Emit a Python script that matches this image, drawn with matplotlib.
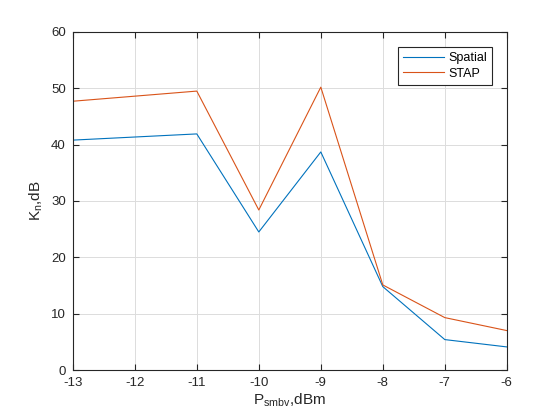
import matplotlib
matplotlib.use("Agg")
import matplotlib.pyplot as plt

# Output power, dBm
p_smbv = [-13, -11, -10, -9, -8, -7, -6]
# suppression coefficient, dB
kn_spatial = [40.8, 41.9, 24.5, 38.7, 14.8, 5.4, 4.1]
kn_stap = [47.7, 49.5, 28.4, 50.2, 15.1, 9.3, 7.0]

plt.rcParams['font.family'] = ['Liberation Sans', 'DejaVu Sans']
plt.rcParams['axes.unicode_minus'] = False

fig = plt.figure(figsize=(5.6, 4.2), dpi=100)
ax = fig.add_axes([0.13, 0.119, 0.775, 0.805])

ax.plot(p_smbv, kn_spatial, color='#0072BD', lw=0.8, label='Spatial')
ax.plot(p_smbv, kn_stap, color='#D95319', lw=0.8, label='STAP')

ax.set_xlim(-13, -6)
ax.set_ylim(0, 60)
ax.set_xticks(range(-13, -5))
ax.set_yticks(range(0, 61, 10))
ax.grid(True, color='#dcdcdc', lw=0.7)
ax.set_axisbelow(True)
ax.tick_params(direction='in', length=4, width=0.8, labelsize=9.5,
               colors='#262626', top=True, right=True, pad=5)
for s in ax.spines.values():
    s.set_color('#262626')
    s.set_linewidth(0.8)

ax.set_xlabel('P$_{\\mathregular{smbv}}$,dBm', fontsize=11, color='#262626', labelpad=2)
ax.set_ylabel('K$_{\\mathregular{n}}$,dB', fontsize=11, color='#262626', labelpad=4)

leg = ax.legend(loc='upper right', fontsize=9, fancybox=False, framealpha=1,
                edgecolor='#262626', handlelength=3.3, borderaxespad=1.2,
                handletextpad=0.3, borderpad=0.4, labelspacing=0.3)
leg.get_frame().set_linewidth(0.8)

fig.savefig('out.png', dpi=100)
